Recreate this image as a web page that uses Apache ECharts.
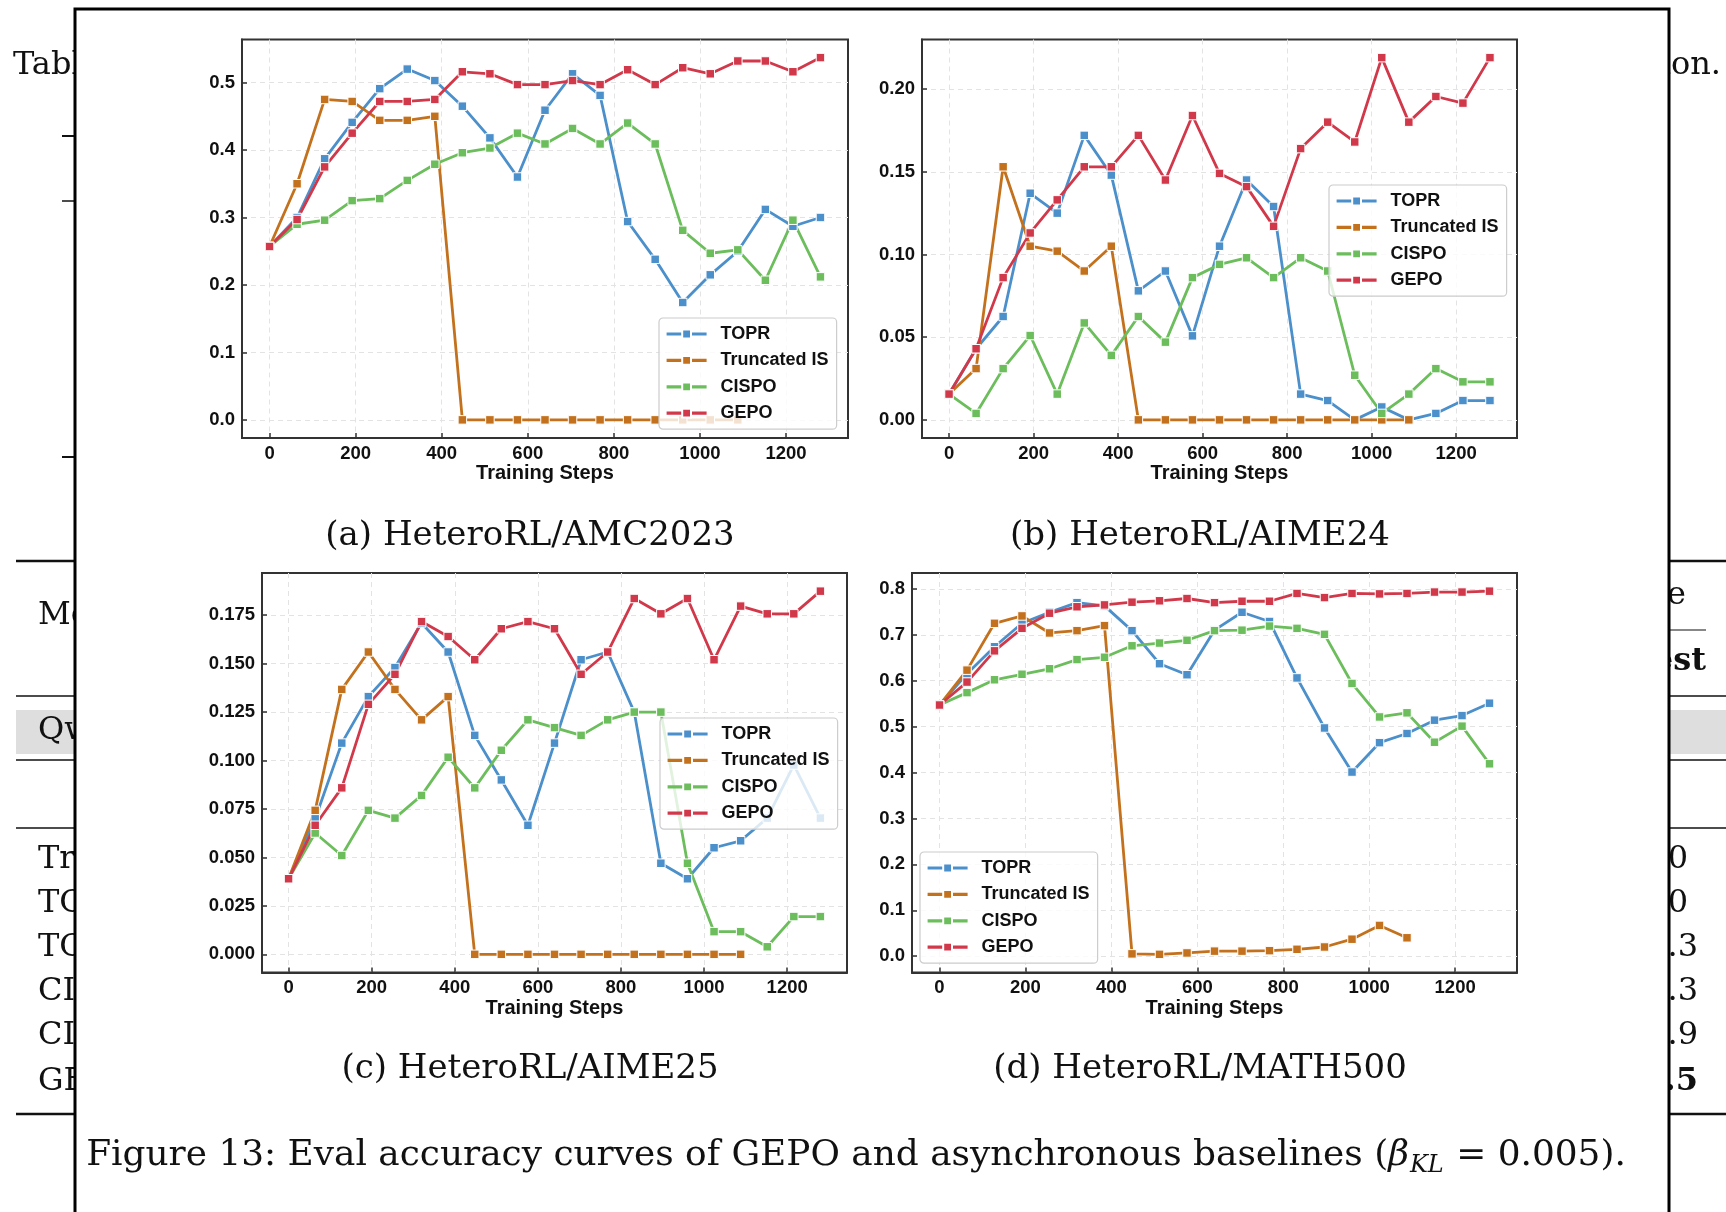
<!DOCTYPE html>
<html><head><meta charset="utf-8">
<script src="https://cdn.jsdelivr.net/npm/echarts@6.0.0/dist/echarts.min.js"></script>
<style>html,body{margin:0;padding:0;background:#fff}#c{width:1726px;height:1212px}</style>
</head><body><div id="c"></div>
<script>
// ---------- data ----------
const steps = [0,64,128,192,256,320,384,448,512,576,640,704,768,832,896,960,1024,1088,1152,1216,1280];
const seriesNames = ['TOPR','Truncated IS','CISPO','GEPO'];

const amcTOPR  = [0.257,0.300,0.387,0.441,0.491,0.520,0.503,0.465,0.418,0.360,0.459,0.513,0.481,0.294,0.238,0.174,0.215,0.250,0.312,0.287,0.300];
const amcTIS   = [0.257,0.350,0.475,0.472,0.444,0.444,0.450,0,0,0,0,0,0,0,0,0,0,0];
const amcCISPO = [0.257,0.290,0.296,0.325,0.328,0.355,0.379,0.396,0.403,0.425,0.409,0.432,0.409,0.440,0.409,0.281,0.247,0.252,0.207,0.296,0.212];
const amcGEPO  = [0.257,0.297,0.375,0.425,0.472,0.472,0.475,0.516,0.513,0.497,0.497,0.503,0.497,0.519,0.497,0.522,0.513,0.532,0.532,0.516,0.537];

const aime24TOPR  = [0.0156,0.043,0.0625,0.137,0.125,0.172,0.148,0.078,0.090,0.0508,0.105,0.145,0.129,0.0156,0.0117,0,0.0078,0,0.0039,0.0117,0.0117];
const aime24TIS   = [0.0156,0.031,0.153,0.105,0.102,0.090,0.105,0,0,0,0,0,0,0,0,0,0,0];
const aime24CISPO = [0.0156,0.0039,0.031,0.051,0.0156,0.0586,0.039,0.0625,0.047,0.086,0.094,0.098,0.086,0.098,0.090,0.027,0.0039,0.0156,0.031,0.023,0.023];
const aime24GEPO  = [0.0156,0.043,0.086,0.113,0.133,0.153,0.153,0.172,0.145,0.184,0.149,0.141,0.117,0.164,0.180,0.168,0.219,0.180,0.1955,0.1915,0.219];

const aime25TOPR  = [0.039,0.070,0.109,0.133,0.148,0.171,0.156,0.113,0.090,0.0666,0.109,0.152,0.156,0.125,0.047,0.039,0.055,0.0586,0.0703,0.0977,0.0703];
const aime25TIS   = [0.039,0.0743,0.1367,0.156,0.1367,0.121,0.133,0,0,0,0,0,0,0,0,0,0,0];
const aime25CISPO = [0.039,0.0626,0.051,0.0743,0.0703,0.082,0.1017,0.0859,0.1053,0.121,0.117,0.113,0.121,0.125,0.125,0.047,0.0117,0.0117,0.0039,0.0195,0.0195];
const aime25GEPO  = [0.039,0.0666,0.0859,0.129,0.1445,0.1717,0.164,0.152,0.168,0.1717,0.168,0.1445,0.156,0.1836,0.1757,0.1836,0.152,0.1797,0.1757,0.1757,0.1874];

const mathTOPR  = [0.547,0.615,0.674,0.725,0.749,0.770,0.763,0.709,0.637,0.613,0.710,0.749,0.729,0.606,0.497,0.401,0.465,0.485,0.514,0.524,0.551];
const mathTIS   = [0.547,0.623,0.725,0.741,0.704,0.709,0.720,0.005,0.004,0.007,0.011,0.011,0.012,0.015,0.020,0.037,0.067,0.040];
const mathCISPO = [0.547,0.574,0.602,0.614,0.626,0.646,0.651,0.676,0.682,0.688,0.709,0.710,0.719,0.714,0.701,0.594,0.521,0.530,0.466,0.501,0.419];
const mathGEPO  = [0.547,0.597,0.665,0.714,0.747,0.761,0.765,0.771,0.774,0.779,0.770,0.773,0.773,0.790,0.781,0.790,0.789,0.790,0.793,0.793,0.795];

const xTicks = [0,200,400,600,800,1000,1200];
const amcYTicks = [0,0.1,0.2,0.3,0.4,0.5];
const aime24YTicks = [0,0.05,0.10,0.15,0.20];
const aime25YTicks = [0,0.025,0.05,0.075,0.1,0.125,0.15,0.175];
const mathYTicks = [0,0.1,0.2,0.3,0.4,0.5,0.6,0.7,0.8];

const subCaptions = ['(a) HeteroRL/AMC2023','(b) HeteroRL/AIME24','(c) HeteroRL/AIME25','(d) HeteroRL/MATH500'];
const xName = 'Training Steps';

// background table fragments (text)
const tableCaptionLeft = 'Table 3: Performance comparison of GEPO and baselines under';
const tableCaptionRight = 'heterogeneous RL with network latency configuration.';
const tableHeaderLeft = 'Method';
const tableHeaderRight1 = 'Average';
const tableHeaderRight2 = 'Best';
const tableGroup = 'Qwen3-8B-Base';
const tableRows = ['Truncated IS','TOPR','TOPR','CISPO','CISPO','GEPO'];
const tableValues = ['30.0','30.0','29.3','28.3','30.9','33.5'];

// ---------- layout ----------
const colors = ['#4b8fcb','#c4711d','#6cbd5c','#d1394b'];
const panels = [
  {grid:{left:242,top:39.5,width:606,height:398.5}, data:[amcTOPR,amcTIS,amcCISPO,amcGEPO], ticks:amcYTicks, dec:1, legend:{left:659,top:318}, cap:[530,536]},
  {grid:{left:922,top:39.5,width:595,height:398.5}, data:[aime24TOPR,aime24TIS,aime24CISPO,aime24GEPO], ticks:aime24YTicks, dec:2, legend:{left:1329,top:185}, cap:[1200,536]},
  {grid:{left:262,top:573,width:585,height:399.5}, data:[aime25TOPR,aime25TIS,aime25CISPO,aime25GEPO], ticks:aime25YTicks, dec:3, legend:{left:660,top:718}, cap:[530,1069]},
  {grid:{left:912,top:573,width:605,height:399.5}, data:[mathTOPR,mathTIS,mathCISPO,mathGEPO], ticks:mathYTicks, dec:1, legend:{left:920,top:852}, cap:[1200,1069]}
];

const sans = 'Liberation Sans, Arial, sans-serif';
const serif = 'DejaVu Serif, serif';

const grid=[], xAxis=[], yAxis=[], series=[], legend=[];
const xMin = steps[0] - 0.05*(steps[steps.length-1]-steps[0]);
const xMax = steps[steps.length-1] + 0.05*(steps[steps.length-1]-steps[0]);

panels.forEach((p, gi) => {
  grid.push(Object.assign({show:true, borderColor:'#333', borderWidth:2, backgroundColor:'transparent', z:2}, p.grid));
  const all = [].concat(...p.data);
  const lo = Math.min(...all), hi = Math.max(...all);
  const pad = 0.05*(hi-lo);
  xAxis.push({
    type:'value', gridIndex:gi, min:xMin, max:xMax, z:2,
    name:xName, nameLocation:'middle', nameGap:23,
    nameTextStyle:{fontFamily:sans, fontWeight:'bold', fontSize:20, color:'#111'},
    axisLine:{show:true, onZero:false, lineStyle:{color:'#333', width:2}},
    axisTick:{show:true, inside:true, length:5, customValues:xTicks, lineStyle:{color:'#333', width:1.5}},
    axisLabel:{customValues:xTicks, margin:6, fontFamily:sans, fontWeight:'bold', fontSize:18.5, color:'#111',
      formatter:(v)=>String(Math.round(v))},
    splitLine:{show:true, lineStyle:{color:'#e3e3e3', type:[5,4], width:1}}
  });
  yAxis.push({
    type:'value', gridIndex:gi, min:lo-pad, max:hi+pad, z:2,
    axisLine:{show:true, onZero:false, lineStyle:{color:'#333', width:2}},
    axisTick:{show:true, inside:true, length:5, customValues:p.ticks, lineStyle:{color:'#333', width:1.5}},
    axisLabel:{customValues:p.ticks, margin:7, fontFamily:sans, fontWeight:'bold', fontSize:18.5, color:'#111',
      formatter:(v)=>Number(v).toFixed(p.dec)},
    splitLine:{show:true, lineStyle:{color:'#e3e3e3', type:[5,4], width:1}}
  });
  p.data.forEach((ys, si) => {
    series.push({
      type:'line', name:seriesNames[si], xAxisIndex:gi, yAxisIndex:gi,
      data: ys.map((v,i)=>[steps[i], v]),
      symbol:'rect', symbolSize:8.5, showSymbol:true, z:3,
      color:colors[si],
      lineStyle:{width:2.8, color:colors[si]},
      itemStyle:{color:colors[si], borderColor:'#fff', borderWidth:1},
      emphasis:{disabled:true}, animation:false
    });
  });
  legend.push({
    left:p.legend.left, top:p.legend.top, orient:'vertical', data:seriesNames,
    itemWidth:40, itemHeight:11, itemGap:6.4,
    padding:[6,8,6,6],
    backgroundColor:'rgba(255,255,255,0.8)', borderColor:'#cccccc', borderWidth:1.2, borderRadius:4,
    lineStyle:{width:3.2},
    textStyle:{fontFamily:sans, fontWeight:'bold', fontSize:18, color:'#111', lineHeight:20, padding:[0,0,0,9]},
    selectedMode:false, z:6
  });
});

// ---------- graphic: table behind, figure box, captions ----------
const g = [];
const T = (x,y,text,opt) => g.push(Object.assign({type:'text', x, y, z:0,
  style:Object.assign({text, font:'32px '+serif, fill:'#111', textVerticalAlign:'middle', textAlign:'left'}, opt||{})}));
const L = (x1,x2,y,w) => g.push({type:'line', z:0, shape:{x1, y1:y, x2, y2:y}, style:{stroke:'#111', lineWidth:w}});

T(13, 66, tableCaptionLeft);
T(1721, 66, tableCaptionRight, {textAlign:'right'});
L(62, 1660, 136, 2.2); L(62, 1660, 201, 1.3); L(62, 1660, 457, 2.2);
L(16, 1726, 561, 2.4);
T(38, 616, tableHeaderLeft);
T(1686, 596, tableHeaderRight1, {textAlign:'right'});
L(1400, 1706, 630, 1.2);
T(1706, 662, tableHeaderRight2, {textAlign:'right', font:'bold 32px '+serif});
L(16, 1726, 696, 1.3);
g.push({type:'rect', z:0, shape:{x:16, y:710, width:1710, height:44}, style:{fill:'#dedede'}});
T(38, 731, tableGroup);
L(16, 1726, 760, 1.3);
L(16, 1726, 828, 1.3);
const rowY = [860, 904, 948, 992, 1036, 1082];
const valRight = [1688, 1688, 1698, 1698, 1698, 1698];
tableRows.forEach((r,i) => {
  T(38, rowY[i], r);
  T(valRight[i], rowY[i], tableValues[i], {textAlign:'right', font:(i===5?'bold ':'')+'32px '+serif});
});
L(16, 1726, 1114, 2.4);

// figure box on top of the table
g.push({type:'rect', z:1, shape:{x:75, y:9, width:1594, height:1300}, style:{fill:'#fff', stroke:'#000', lineWidth:3}});

// sub-captions
panels.forEach((p,i) => g.push({type:'text', x:p.cap[0], y:p.cap[1], z:5,
  style:{text:subCaptions[i], font:'34px '+serif, fill:'#111', textAlign:'center', textVerticalAlign:'middle'}}));

// main caption with subscript
const cap1 = 'Figure 13: Eval accuracy curves of GEPO and asynchronous baselines (';
const capB = 'β';
const capSub = 'KL';
const cap2 = ' = 0.005).';
const cv = document.createElement('canvas').getContext('2d');
const mw = (t,f)=>{cv.font=f; return cv.measureText(t).width;};
const f1 = '35.9px '+serif, fB = 'italic 35.9px '+serif, fS = 'italic 24px '+serif;
const w1 = mw(cap1,f1), wB = mw(capB,fB), wS = mw(capSub,fS), w2 = mw(cap2,f1);
const capW = w1+wB+wS+w2+2;
let cx = 856 - capW/2;
const capY = 1156;
g.push({type:'text', x:cx, y:capY, z:5, style:{text:cap1, font:f1, fill:'#111', textVerticalAlign:'middle'}}); cx += w1;
g.push({type:'text', x:cx, y:capY, z:5, style:{text:capB, font:fB, fill:'#111', textVerticalAlign:'middle'}}); cx += wB+1;
g.push({type:'text', x:cx, y:capY+10, z:5, style:{text:capSub, font:fS, fill:'#111', textVerticalAlign:'middle'}}); cx += wS+1;
g.push({type:'text', x:cx, y:capY, z:5, style:{text:cap2, font:f1, fill:'#111', textVerticalAlign:'middle'}});

const chart = echarts.init(document.getElementById('c'), null, {renderer:'canvas'});
chart.setOption({
  backgroundColor:'#fff', animation:false,
  grid, xAxis, yAxis, series, legend,
  graphic:{elements:g}
});
</script></body></html>
